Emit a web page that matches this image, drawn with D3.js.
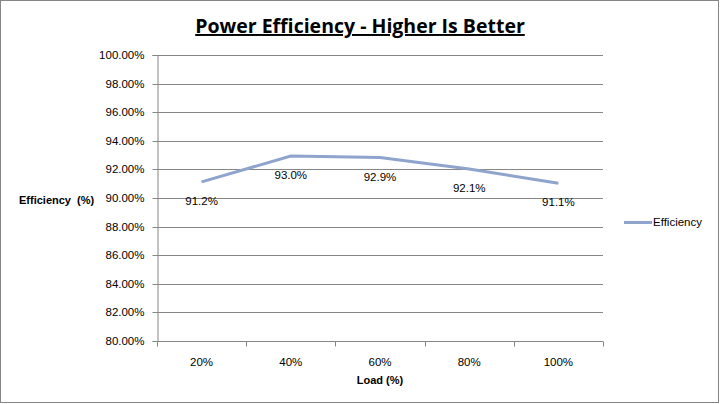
<!DOCTYPE html>
<html><head><meta charset="utf-8">
<script src="https://cdn.jsdelivr.net/npm/d3@7"></script>
<style>body{margin:0;background:#fff}svg{display:block}</style>
</head><body>
<svg id="c" width="720" height="404"></svg>
<script>
const categories = ["20%","40%","60%","80%","100%"];
const efficiency = [91.2, 93.0, 92.9, 92.1, 91.1];
const yTicks = [80,82,84,86,88,90,92,94,96,98,100];
const seriesName = "Efficiency";

const svg = d3.select("#c");
const font = "'Liberation Sans', Arial, sans-serif";
const m = {l:157, r:603, t:55, b:341};

svg.append("rect").attr("x",0.5).attr("y",0.5).attr("width",718).attr("height",402)
  .attr("fill","#fff").attr("stroke","#868686");

const x = d3.scaleBand().domain(categories).range([m.l, m.r]);
const y = d3.scaleLinear().domain([80,100]).range([m.b, m.t]);

// gridlines
svg.append("g").selectAll("line").data(yTicks.slice(1)).join("line")
  .attr("x1",m.l).attr("x2",m.r)
  .attr("y1",d=>Math.round(y(d))+0.5).attr("y2",d=>Math.round(y(d))+0.5)
  .attr("stroke","#868686");

// y axis
const ya = svg.append("g").attr("transform",`translate(${m.l+0.5},0)`)
  .call(d3.axisLeft(y).tickValues(yTicks).tickSize(5).tickPadding(8).tickFormat(d=>d.toFixed(2)+"%"));
ya.select(".domain").attr("stroke","#868686");
ya.selectAll(".tick line").attr("stroke","#868686");
ya.selectAll(".tick").attr("transform",d=>`translate(0,${Math.round(y(d))+0.5})`);
ya.selectAll("text").attr("font-family",font).attr("font-size",11.5).attr("fill","#000");

// x axis
const xa = svg.append("g").attr("transform",`translate(0,${m.b+0.5})`);
xa.append("line").attr("x1",m.l).attr("x2",m.r).attr("stroke","#868686");
const bounds = categories.map(c=>x(c)).concat([m.r]);
xa.selectAll("line.t").data(bounds).join("line").attr("class","t")
  .attr("x1",d=>Math.round(d)+0.5).attr("x2",d=>Math.round(d)+0.5).attr("y1",0).attr("y2",5)
  .attr("stroke","#868686");
xa.selectAll("text").data(categories).join("text")
  .attr("x",d=>x(d)+x.bandwidth()/2).attr("y",24).attr("text-anchor","middle")
  .attr("font-family",font).attr("font-size",11.5).text(d=>d);

// line
const line = d3.line().x((d,i)=>x(categories[i])+x.bandwidth()/2).y(d=>y(d)+1);
svg.append("path").datum(efficiency).attr("d",line).attr("fill","none")
  .attr("stroke","#8EA4CC").attr("stroke-width",3);

// data labels
svg.append("g").selectAll("text").data(efficiency).join("text")
  .attr("x",(d,i)=>x(categories[i])+x.bandwidth()/2).attr("y",d=>y(d)+24)
  .attr("text-anchor","middle").attr("font-family",font).attr("font-size",11.5)
  .text(d=>d.toFixed(1)+"%");

// title
svg.append("text").attr("x",360).attr("y",33).attr("text-anchor","middle")
  .attr("font-family","'Open Sans', sans-serif").attr("font-weight","bold").attr("font-size",19.5)
  .attr("text-decoration","underline").text("Power Efficiency - Higher Is Better");

// axis titles
svg.append("text").attr("x",19).attr("y",204).attr("font-family",font).attr("font-weight","bold")
  .attr("font-size",11).attr("xml:space","preserve").text("Efficiency  (%)");
svg.append("text").attr("x",380).attr("y",384).attr("text-anchor","middle").attr("font-family",font)
  .attr("font-weight","bold").attr("font-size",11).text("Load (%)");

// legend
svg.append("line").attr("x1",624).attr("x2",652).attr("y1",222.5).attr("y2",222.5)
  .attr("stroke","#8EA4CC").attr("stroke-width",3);
svg.append("text").attr("x",653).attr("y",226).attr("font-family",font).attr("font-size",11.5).text(seriesName);
</script>
</body></html>
